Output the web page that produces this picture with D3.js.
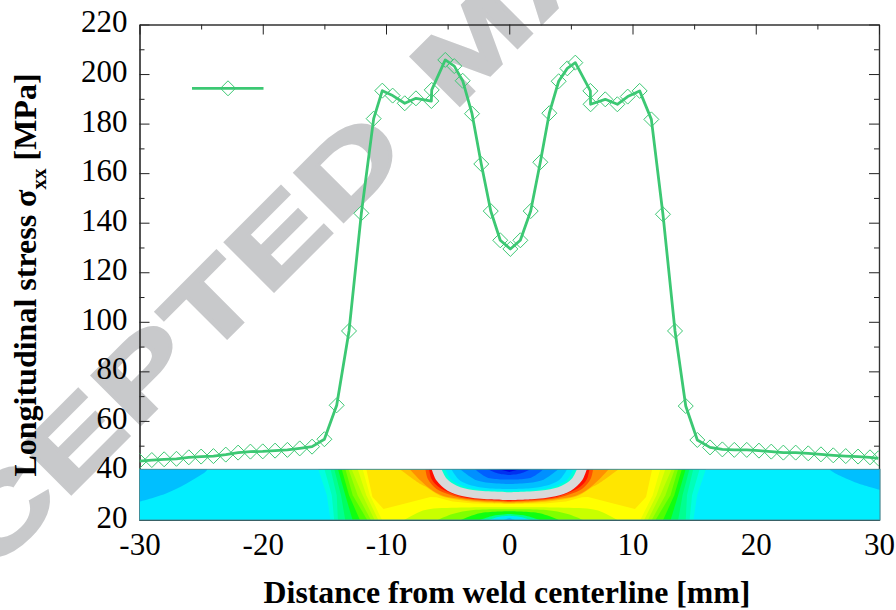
<!DOCTYPE html>
<html>
<head>
<meta charset="utf-8">
<script src="https://cdn.jsdelivr.net/npm/d3@7"></script>
<style>
  html, body { margin: 0; padding: 0; background: #fff; }
  svg { display: block; }
  text { font-family: "Liberation Serif", serif; fill: #000; }
</style>
</head>
<body>
<svg id="chart" width="896" height="610"></svg>
<script>
// curve
const stressX = [-30,-29,-28,-27,-26,-25,-24,-23,-22,-21,-20,-19,-18,-17,-16,-15,-14,-13,-12,-11,
  -10.3,-9.46,-8.48,-7.57,-6.32,-6.29,-5.19,-4.46,-3.78,-3.02,-2.27,-1.5,-0.73,0.09,0.9,1.74,2.52,3.25,4.01,4.71,5.36,
  6.58,6.6,7.79,8.77,9.61,10.58,11.53,12.47,13.45,14.32,15.26,16.29,17.29,18.26,19.27,20.26,21.26,22.24,23.24,24.26,25.29,26.29,27.3,28.3,29.27,29.95];
const stressY = [43.8,44.2,44.5,44.7,45.3,45.6,45.8,46.4,47.2,47.6,47.7,48,48.3,48.9,49.6,52.6,66.3,96.3,143.8,182,
  193.3,191.3,188.2,190.2,189.1,193.6,205.7,203.2,197.3,184,163.7,144.7,132.9,129.4,132.9,144.7,164.4,184.2,197.1,202.3,204.6,
  193.2,187.8,189.8,187.8,190.9,193.2,181.7,143.4,96.3,66,52.3,49.3,48.5,48.3,48.3,48,47.6,47.2,47.2,46.9,46.5,46.1,45.8,45.6,45.3,44.9];

const xMajorTicks = [-30,-20,-10,0,10,20,30];
const xMinorTicks = [-25,-15,-5,5,15,25];
const yMajorTicks = [20,40,60,80,100,120,140,160,180,200,220];
const yMinorTicks = [30,50,70,90,110,130,150,170,190,210];

// contour inset, painted outer to inner. each band: colour + left half in [mm, axis value], mirrored to the right
const outerBands = [
  ["#00ffe0", [[-15.5,40.6],[-14.8,30],[-14.5,19.8]]],
  ["#00ffb8", [[-15,40.6],[-14.4,30],[-14.2,19.8]]],
  ["#00ff90", [[-14.5,40.6],[-14,30],[-13.9,19.8]]],
  ["#00ff60", [[-14.2,40.6],[-13.65,30],[-13.3,19.8]]],
  ["#10ff10", [[-13.9,40.6],[-13.3,30],[-12.7,19.8]]],
  ["#50ff00", [[-13.6,40.6],[-13,30],[-12.1,19.8]]],
  ["#80ff00", [[-13.3,40.6],[-12.7,30],[-11.5,19.8]]],
  ["#a8ff00", [[-13.05,40.6],[-12.3,30],[-11.2,19.8]]],
  ["#c8ff00", [[-12.8,40.6],[-11.9,30],[-10.9,19.8]]],
  ["#e8ff00", [[-12.3,40.6],[-11.6,30],[-10.6,19.8]]],
  ["#ffff00", [[-11.9,40.6],[-11.3,30],[-10.3,19.8]]]
];
const lowerBands = [
  ["#c8ff00", [[-8.6,19.8],[-7.2,23.4],[-6.4,24.4],[-3.5,25],[0,25.1]]],
  ["#80ff00", [[-5.9,19.8],[-4.6,22.4],[-2.9,24],[0,24.3]]],
  ["#10ff10", [[-4,19.8],[-2.4,22.7],[0,23.5]]],
  ["#00ff90", [[-2.5,19.8],[-1.3,21.7],[0,22.4]]],
  ["#00e8ff", [[-1.8,19.8],[-0.8,21.3],[0,21.7]]],
  ["#00b0ff", [[-0.6,19.8],[0,20.7]]]
];
const hotBands = [
  ["#ffe600", [[-11.6,40.6],[-11.1,29.3],[-10.2,24.4],[-8.6,26.5],[-6.4,29.3],[-5.9,29.2],[-4.6,27.5],[-2.9,26.7],[0,26.5]]],
  ["#ffc000", [[-8.9,40.6],[-7.2,34.5],[-6.7,33.2],[-5.6,29.8],[-4,28.1],[-1.8,27],[0,26.7]]],
  ["#ff9000", [[-8.1,40.6],[-7.2,35.9],[-6.4,32.5],[-5.4,29.8],[-3.8,28.4],[-1.8,27.4],[0,27.1]]],
  ["#ff5000", [[-6.8,40.6],[-6.6,36.5],[-5.9,32.5],[-4.8,30.2],[-3.5,28.6],[0,27.4]]],
  ["#ff1000", [[-6.5,40.6],[-6.3,36.5],[-5.75,33.4],[-4.8,31],[-3.5,29],[0,27.8]]],
  ["#d9d9d9", [[-6.3,40.6],[-5.9,35.9],[-5,31.8],[-3.75,29.6],[-1.8,28.4],[0,28.1]]],
  ["#00ffd8", [[-5.5,40.6],[-5.05,36.5],[-4.25,33.8],[-2.95,32.1],[0,31.2]]],
  ["#00e8ff", [[-5.2,40.6],[-4.75,36.5],[-4,34.2],[-2.8,32.5],[0,31.8]]],
  ["#00c0ff", [[-4.7,40.6],[-4,35.9],[-2.4,33.2],[0,32.5]]],
  ["#0090ff", [[-4,40.6],[-2.6,35.9],[0,34.5]]],
  ["#0060ff", [[-2.8,40.6],[-1.8,37.2],[0,36.3]]],
  ["#0030f0", [[-1.8,40.6],[-0.9,38.8],[0,38.2]]],
  ["#0000e0", [[-1,40.6],[0,39.4]]]
];
const cornerLeft = [[-30,40.6],[-24.5,40.6],[-25.7,36.1],[-27.8,30.8],[-30,27.4]];
const cornerRight = [[30.1,40.6],[26,40.6],[27.9,35.5],[30.1,32.1]];

const plot = { left: 139.5, right: 879, top: 24.5, bottom: 520 };
const green = "#3cc873";

const svg = d3.select("#chart");
const x = d3.scaleLinear().domain([-30, 30]).range([plot.left, plot.right]);
const y = d3.scaleLinear().domain([20, 220]).range([plot.bottom, plot.top]);

// watermark goes under everything, the letters are wider than a normal bold face
svg.append("text")
  .attr("transform", "translate(-160,725) rotate(-45) scale(1.43,1)")
  .style("font-family", '"Liberation Sans", sans-serif')
  .style("font-weight", "bold")
  .style("font-size", "100px")
  .style("letter-spacing", "2px")
  .style("word-spacing", "11px")
  .style("fill", "#c8c9cb")
  .style("stroke", "#c8c9cb")
  .style("stroke-width", 3)
  .text("ACCEPTED MANUSCRIPT");

// frame + ticks
function styleAxis(g) {
  g.select(".domain").attr("stroke", "#333").attr("stroke-width", 1.2);
  g.selectAll(".tick line").attr("stroke", "#222").attr("stroke-width", 1);
  g.selectAll("text").style("font-family", '"Liberation Serif", serif').style("font-size", "31px").attr("fill", "#000");
}

function addAxis(axisFn, scale, majors, minors, tx, ty, labels) {
  svg.append("g").attr("transform", `translate(${tx},${ty})`)
    .call(axisFn(scale).tickValues(minors).tickSize(-5).tickSizeOuter(0).tickFormat(""))
    .call(styleAxis);
  return svg.append("g").attr("transform", `translate(${tx},${ty})`)
    .call(axisFn(scale).tickValues(majors).tickSize(-10).tickSizeOuter(0).tickPadding(labels ? (axisFn === d3.axisLeft ? 12 : 13) : 3)
      .tickFormat(labels ? d => String(d) : ""))
    .call(styleAxis);
}

const leftAxis = addAxis(d3.axisLeft, y, yMajorTicks, yMinorTicks, plot.left, 0, true);
leftAxis.selectAll("text").attr("dy", "0.24em");
addAxis(d3.axisRight, y, yMajorTicks, yMinorTicks, plot.right, 0, false);
addAxis(d3.axisTop, x, xMajorTicks, xMinorTicks, 0, plot.top, false);
addAxis(d3.axisBottom, x, xMajorTicks, xMinorTicks, 0, plot.bottom, true);

// contour inset
const inset = svg.append("g");
const insetTop = 40.45;
svg.append("clipPath").attr("id", "inset-clip").append("rect")
  .attr("x", x(-30)).attr("y", y(insetTop))
  .attr("width", x(30.08) - x(-30)).attr("height", y(20) - y(insetTop));
inset.attr("clip-path", "url(#inset-clip)");

inset.append("rect").attr("x", x(-30)).attr("y", y(insetTop))
  .attr("width", x(30.08) - x(-30)).attr("height", y(20) - y(insetTop)).attr("fill", "#00eeff");

const polyLine = d3.line().x(d => x(d[0])).y(d => y(d[1]));
const softLine = d3.line().x(d => x(d[0])).y(d => y(d[1])).curve(d3.curveCatmullRom.alpha(0.5));

function bandPath(line, half, stretch) {
  const mirrored = half.slice().reverse().map(d => [-d[0] * stretch, d[1]]);
  return line(half.concat(mirrored)) + "Z";
}

inset.append("path").attr("d", softLine(cornerLeft) + "Z").attr("fill", "#00bfff");
inset.append("path").attr("d", softLine(cornerRight) + "Z").attr("fill", "#00bfff");

inset.selectAll(".outer").data(outerBands).enter().append("path")
  .attr("class", "outer").attr("fill", d => d[0]).attr("d", d => bandPath(polyLine, d[1], 1.03));
inset.selectAll(".lower").data(lowerBands).enter().append("path")
  .attr("class", "lower").attr("fill", d => d[0]).attr("d", d => bandPath(softLine, d[1], 1.03));
inset.selectAll(".hot").data(hotBands).enter().append("path")
  .attr("class", "hot").attr("fill", d => d[0]).attr("d", (d, i) => bandPath(i === 0 ? polyLine : softLine, d[1], 1));

svg.append("rect").attr("x", x(-30)).attr("y", y(insetTop))
  .attr("width", x(30.08) - x(-30)).attr("height", y(20) - y(insetTop))
  .attr("fill", "none").attr("stroke", "#3f8f9a").attr("stroke-width", 1);

// stress curve, clipped to the plot
svg.append("clipPath").attr("id", "plot-clip").append("rect")
  .attr("x", plot.left).attr("y", plot.top).attr("width", plot.right - plot.left).attr("height", plot.bottom - plot.top);
const points = stressX.map((d, i) => [d, stressY[i]]);
const curveG = svg.append("g").attr("clip-path", "url(#plot-clip)");

const diamond = (px, py) => `M${px},${py - 7.5}L${px + 7.5},${py}L${px},${py + 7.5}L${px - 7.5},${py}Z`;
curveG.selectAll(".marker").data(points).enter().append("path")
  .attr("class", "marker").attr("fill", "none").attr("stroke", green).attr("stroke-width", 1)
  .attr("d", d => diamond(x(d[0]), y(d[1])));
curveG.append("path").datum(points)
  .attr("fill", "none").attr("stroke", green).attr("stroke-width", 2.8)
  .attr("stroke-linejoin", "round")
  .attr("d", polyLine);

// legend sample, no label in the figure
svg.append("line").attr("x1", 192).attr("x2", 263.5).attr("y1", 88.3).attr("y2", 88.3)
  .attr("stroke", green).attr("stroke-width", 2.8);
svg.append("path").attr("d", diamond(228, 88.3)).attr("fill", "none").attr("stroke", green).attr("stroke-width", 1);

// axis titles
svg.append("text").attr("x", 507).attr("y", 603).attr("text-anchor", "middle")
  .style("font-weight", "bold").style("font-size", "31.8px")
  .text("Distance from weld centerline [mm]");

const yTitle = svg.append("text").attr("transform", "translate(36,275) rotate(-90)")
  .attr("text-anchor", "middle").style("font-weight", "bold").style("font-size", "32px");
yTitle.append("tspan").text("Longitudinal stress \u03c3");
yTitle.append("tspan").attr("dy", 10).style("font-size", "21px").text("xx");
yTitle.append("tspan").attr("dy", -10).text("  [MPa]");
</script>
</body>
</html>
